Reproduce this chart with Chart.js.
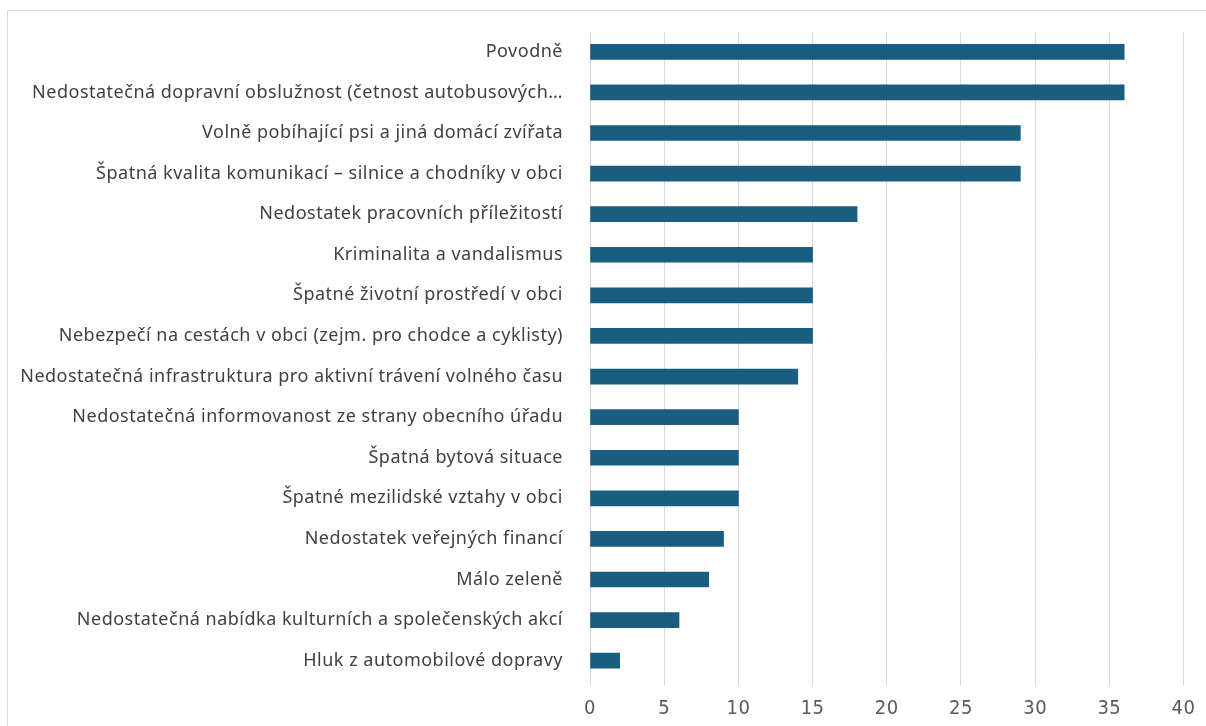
<!DOCTYPE html>
<html>
<head>
<meta charset="utf-8">
<script src="https://cdn.jsdelivr.net/npm/chart.js@4/dist/chart.umd.min.js"></script>
<style>
  html, body { margin: 0; padding: 0; background: #fff; }
  #wrap { position: relative; width: 1206px; height: 726px; overflow: hidden; }
  #frame { position: absolute; left: 7px; top: 10px; width: 1300px; height: 800px; border: 1px solid #d9d9d9; }
  #chart { position: absolute; left: 0; top: 0; }
</style>
</head>
<body>
<div id="wrap">
  <div id="frame"></div>
  <canvas id="chart" width="1206" height="726"></canvas>
</div>
<script>
const categories = [
  'Povodně',
  'Nedostatečná dopravní obslužnost (četnost autobusových…',
  'Volně pobíhající psi a jiná domácí zvířata',
  'Špatná kvalita komunikací – silnice a chodníky v obci',
  'Nedostatek pracovních příležitostí',
  'Kriminalita a vandalismus',
  'Špatné životní prostředí v obci',
  'Nebezpečí na cestách v obci (zejm. pro chodce a cyklisty)',
  'Nedostatečná infrastruktura pro aktivní trávení volného času',
  'Nedostatečná informovanost ze strany obecního úřadu',
  'Špatná bytová situace',
  'Špatné mezilidské vztahy v obci',
  'Nedostatek veřejných financí',
  'Málo zeleně',
  'Nedostatečná nabídka kulturních a společenských akcí',
  'Hluk z automobilové dopravy'
]
const values = [36, 36, 29, 29, 18, 15, 15, 15, 14, 10, 10, 10, 9, 8, 6, 2]
const xTicks = [0, 5, 10, 15, 20, 25, 30, 35, 40]

// the labels in the picture are spaced out a bit
const spacing = {
  id: 'spacing',
  beforeDraw(chart) { chart.ctx.letterSpacing = '0.5px' }
}

const ctx = document.getElementById('chart').getContext('2d')
new Chart(ctx, {
  type: 'bar',
  data: {
    labels: categories,
    datasets: [{
      data: values,
      backgroundColor: '#195e80',
      barThickness: 15
    }]
  },
  options: {
    indexAxis: 'y',
    responsive: false,
    animation: false,
    layout: { padding: { top: 31.5, right: 22, left: 0, bottom: 0 } },
    plugins: { legend: { display: false }, tooltip: { enabled: false } },
    scales: {
      x: {
        min: 0,
        max: 40,
        afterBuildTicks: (scale) => { scale.ticks = xTicks.map(v => ({ value: v })) },
        afterFit: (scale) => { scale.height = 45 },
        grid: { color: '#d9d9d9', tickLength: 5, drawTicks: true },
        border: { display: false },
        ticks: {
          color: '#595959',
          padding: 11,
          font: { family: "'Liberation Sans Narrow', 'DejaVu Sans Condensed', sans-serif", size: 20 }
        }
      },
      y: {
        afterFit: (scale) => { scale.width = 590 },
        grid: { display: false },
        border: { display: false },
        ticks: {
          color: '#404040',
          padding: 19,
          autoSkip: false,
          font: { family: "'Noto Sans', sans-serif", size: 18 }
        }
      }
    }
  },
  plugins: [spacing]
})
</script>
</body>
</html>
